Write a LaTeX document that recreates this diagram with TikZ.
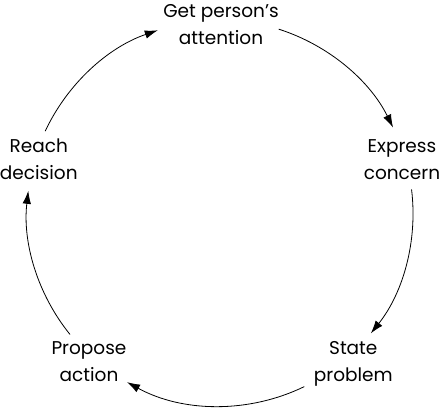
\documentclass[tikz,border=0pt]{standalone}
\usepackage{fontspec}
\setmainfont{Poppins}
\usetikzlibrary{arrows.meta}
\begin{document}
\begin{tikzpicture}[x=1pt,y=1pt,
  lbl/.style={align=center,inner sep=0pt,anchor=base,font=\fontsize{18.5}{27}\selectfont},
  arr/.style={line width=0.8pt,-{Latex[length=13pt,width=8.5pt]}}]
\useasboundingbox (0,0) rectangle (440,408);
\coordinate (c) at (220,195);
\node[lbl] (get) at (221,363.7) {Get person’s\\attention};
\node[lbl] (exp) at (402,228.7) {Express\\concern};
\node[lbl] (sta) at (353.3,26.3) {State\\problem};
\node[lbl] (pro) at (89,26.3) {Propose\\action};
\node[lbl] (rea) at (38.8,228.7) {Reach\\decision};
\draw[arr] ([shift={(72.3:193pt)}]c) arc[start angle=72.3, end angle=26.3, radius=193pt];
\draw[arr] ([shift={(7:193pt)}]c) arc[start angle=7, end angle=-38.6, radius=193pt];
\draw[arr] ([shift={(-64.1:193pt)}]c) arc[start angle=-64.1, end angle=-118.8, radius=193pt];
\draw[arr] ([shift={(219:193pt)}]c) arc[start angle=219, end angle=173.4, radius=193pt];
\draw[arr] ([shift={(154.9:193pt)}]c) arc[start angle=154.9, end angle=108.8, radius=193pt];
\end{tikzpicture}
\end{document}
